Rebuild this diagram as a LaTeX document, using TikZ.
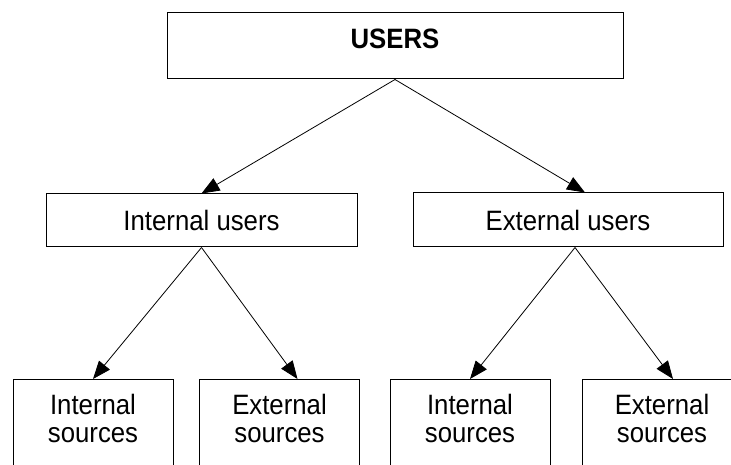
\documentclass[tikz,border=0pt]{standalone}
\usepackage{fontspec}
\setmainfont{Liberation Sans}[FakeStretch=0.92]
\usetikzlibrary{arrows.meta}
\begin{document}
\begin{tikzpicture}[x=1pt,y=-1pt,
  box/.style={draw,line width=1pt,inner sep=0pt,font=\fontsize{28}{28}\selectfont},
  srcbox/.style={draw,line width=1pt,minimum width=160pt,minimum height=130pt,anchor=north,inner sep=0pt},
  srctxt/.style={align=center,inner sep=0pt,font=\fontsize{28}{28}\selectfont},
  arr/.style={line width=0.8pt,-{Triangle[length=18pt,width=14pt]}}]
\useasboundingbox (0,0) rectangle (731,465);
\node[box,minimum width=456pt,minimum height=66pt,text depth=14pt,font=\fontsize{28}{28}\selectfont\bfseries] (users) at (395,46) {USERS};
\node[box,minimum width=311pt,minimum height=53pt] (intu) at (201.5,220.5) {Internal users};
\node[box,minimum width=310pt,minimum height=54pt] (extu) at (568,220) {External users};
\foreach \n/\x/\a in {is1/93/Internal, es1/279.5/External, is2/470/Internal, es2/662/External}{
  \node[srcbox] (\n) at (\x,379) {};
  \node[srctxt] (\n-t) at ([yshift=-39pt]\n.north) {\a\\sources};
}
\draw[arr] (users.south) -- (intu.north);
\draw[arr] (users.south) -- ([xshift=17pt]extu.north);
\draw[arr] (intu.south) -- (is1.north);
\draw[arr] (intu.south) -- ([xshift=18pt]es1.north);
\draw[arr] ([xshift=7pt]extu.south) -- (is2.north);
\draw[arr] ([xshift=7pt]extu.south) -- ([xshift=11pt]es2.north);
\end{tikzpicture}
\end{document}
